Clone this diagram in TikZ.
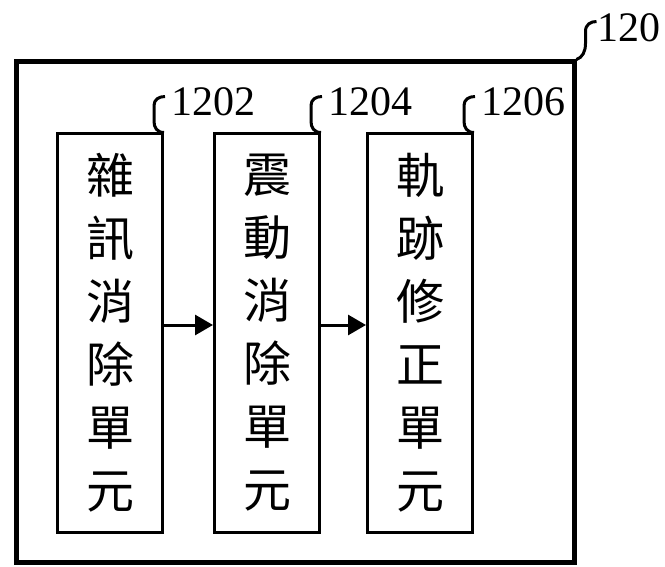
\documentclass[tikz,border=0pt]{standalone}
\usepackage{fontspec}
\setmainfont{Liberation Serif}
\newfontfamily\cjk{Noto Sans CJK TC}
\usetikzlibrary{arrows.meta}
\begin{document}
\begin{tikzpicture}[x=1pt,y=-1pt,
  outerbox/.style={draw,line width=5pt,inner sep=0pt,minimum width=558pt,minimum height=500pt},
  unitbox/.style={draw,line width=3pt,minimum width=105pt,minimum height=398pt,inner sep=0pt,align=center,font=\cjk\fontsize{48}{63}\selectfont},
  flow/.style={line width=3pt,-{Triangle[length=18pt,width=20pt]}},
  squig/.style={line width=3pt},
  lbl/.style={font=\fontsize{42}{42}\selectfont,inner sep=0pt,anchor=base west}]
\useasboundingbox (0,0) rectangle (665,567);
\node[outerbox] (sys) at (295,312) {};
\node[unitbox] (b1) at (110,333) {雜\\訊\\消\\除\\單\\元};
\node[unitbox] (b2) at (267,333) {震\\動\\消\\除\\單\\元};
\node[unitbox] (b3) at (420,333) {軌\\跡\\修\\正\\單\\元};
\draw[flow] ([yshift=8pt]b1.east) -- ([yshift=8pt]b2.west);
\draw[flow] ([yshift=8pt]b2.east) -- ([yshift=8pt]b3.west);
\foreach \b/\t in {b1/1202,b2/1204,b3/1206}{
  \draw[squig] (\b.north east) .. controls +(-7,0) and +(0,6) .. ++(-10,-11) -- ++(0,-16) .. controls +(0,-6) and +(-6,0) .. ++(11,-9) coordinate (e\b);
  \node[lbl] (l\b) at ([xshift=6pt,yshift=-19pt]e\b) {\t};
}
\draw[squig] (sys.north east) .. controls +(6,-2) and +(0,8) .. ++(9,-16) -- ++(0,-12) .. controls +(0,-7) and +(-6,0) .. ++(11,-10) coordinate (e0);
\node[lbl] (l0) at ([xshift=1pt,yshift=-20pt]e0) {120};
\end{tikzpicture}
\end{document}
